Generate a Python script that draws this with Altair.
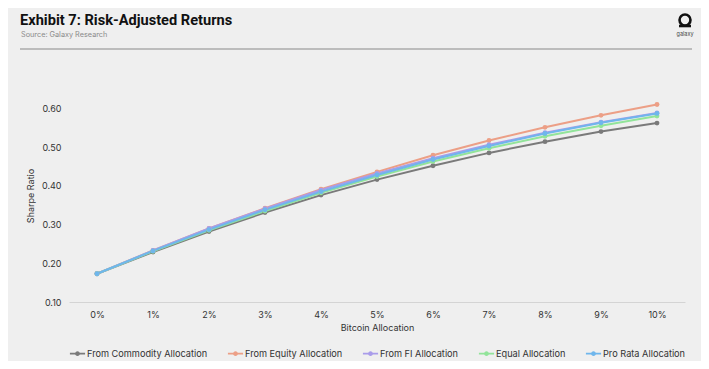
import altair as alt
import pandas as pd

allocations = ["0%", "1%", "2%", "3%", "4%", "5%", "6%", "7%", "8%", "9%", "10%"]
series_names = [
    "From Commodity Allocation",
    "From Equity Allocation",
    "From FI Allocation",
    "Equal Allocation",
    "Pro Rata Allocation",
]
commodity = [0.173, 0.229, 0.282, 0.331, 0.376, 0.416, 0.452, 0.485, 0.514, 0.540, 0.562]
equity = [0.173, 0.233, 0.290, 0.342, 0.391, 0.436, 0.479, 0.517, 0.551, 0.582, 0.610]
fixed_income = [0.173, 0.233, 0.290, 0.341, 0.389, 0.432, 0.471, 0.506, 0.537, 0.564, 0.588]
equal = [0.173, 0.231, 0.285, 0.335, 0.382, 0.424, 0.463, 0.497, 0.528, 0.555, 0.580]
pro_rata = [0.173, 0.232, 0.287, 0.338, 0.385, 0.428, 0.468, 0.503, 0.535, 0.563, 0.587]
colors = ["#7a7a7a", "#ec9f86", "#a99cea", "#92e49a", "#6fb6ec"]
y_ticks = [0.1, 0.2, 0.3, 0.4, 0.5, 0.6]

rows = []
for name, vals in zip(series_names, [commodity, equity, fixed_income, equal, pro_rata]):
    for a, v in zip(allocations, vals):
        rows.append({"Allocation": a, "Series": name, "Sharpe": v})
df = pd.DataFrame(rows)

FONT = "Inter"

legend_symbol = "M-1,0L1,0M0,-0.2A0.2,0.2 0 1,1 0,0.2A0.2,0.2 0 1,1 0,-0.2Z"

lines = alt.Chart(df).mark_line(
    strokeWidth=2,
    point=alt.OverlayMarkDef(size=24, filled=True, opacity=1),
).encode(
    x=alt.X(
        "Allocation:O",
        sort=allocations,
        title="Bitcoin Allocation",
        axis=alt.Axis(
            labelAngle=0, ticks=False, domain=True, domainColor="#d4d4d4",
            labelPadding=8, titlePadding=4,
        ),
    ),
    y=alt.Y(
        "Sharpe:Q",
        title="Sharpe Ratio",
        scale=alt.Scale(domain=[0.1, 0.65], nice=False, zero=False),
        axis=alt.Axis(
            values=y_ticks, format=".2f", ticks=False, domain=False, grid=False,
            labelPadding=8, titlePadding=6,
        ),
    ),
    color=alt.Color(
        "Series:N",
        sort=series_names,
        scale=alt.Scale(domain=series_names, range=colors),
        legend=alt.Legend(
            title=None, orient="bottom", direction="horizontal",
            symbolType=legend_symbol, symbolSize=230, symbolStrokeWidth=1.8,
            columnPadding=16, labelFontSize=9.2, labelColor="#333333",
            labelFont=FONT, offset=13, symbolOffset=0, labelOffset=1,
        ),
    ),
)

title = alt.Chart(pd.DataFrame({"t": ["Exhibit 7: Risk-Adjusted Returns"]})).mark_text(
    align="left", baseline="alphabetic", font="Roboto", fontSize=14.6, fontWeight="bold",
    color="#111111",
).encode(text="t:N", x=alt.value(-49), y=alt.value(-64))

subtitle = alt.Chart(pd.DataFrame({"t": ["Source: Galaxy Research"]})).mark_text(
    align="left", baseline="alphabetic", font=FONT, fontSize=7.3, color="#8a8a8a",
).encode(text="t:N", x=alt.value(-48), y=alt.value(-52))

separator = alt.Chart(pd.DataFrame({"a": [0]})).mark_rule(
    color="#8a8a8a", strokeWidth=1.2
).encode(x=alt.value(-49), x2=alt.value(623), y=alt.value(-40))

logo_ring = alt.Chart(pd.DataFrame({"a": [0]})).mark_point(
    shape="circle", filled=False, size=120, strokeWidth=2.6, color="#111111", opacity=1
).encode(x=alt.value(616), y=alt.value(-69))

logo_bar = alt.Chart(pd.DataFrame({"a": [0]})).mark_rule(
    color="#111111", strokeWidth=2.6
).encode(x=alt.value(610), x2=alt.value(622), y=alt.value(-63))

logo_text = alt.Chart(pd.DataFrame({"t": ["galaxy"]})).mark_text(
    align="center", baseline="middle", font=FONT, fontSize=5.5, color="#444444",
).encode(text="t:N", x=alt.value(616), y=alt.value(-55))

chart = alt.layer(
    separator, title, subtitle, logo_ring, logo_bar, logo_text, lines
).properties(
    width=616,
    height=213,
    background="#efefef",
    padding={"left": 61, "top": 81, "right": 16, "bottom": 59},
    autosize=alt.AutoSizeParams(type="none"),
).configure_view(
    stroke=None
).configure_axis(
    labelFont=FONT, titleFont=FONT, labelFontSize=9, titleFontSize=9,
    labelColor="#333333", titleColor="#333333", titleFontWeight="normal",
)

chart.save("out.html", embed_options={"renderer": "svg", "actions": False})
